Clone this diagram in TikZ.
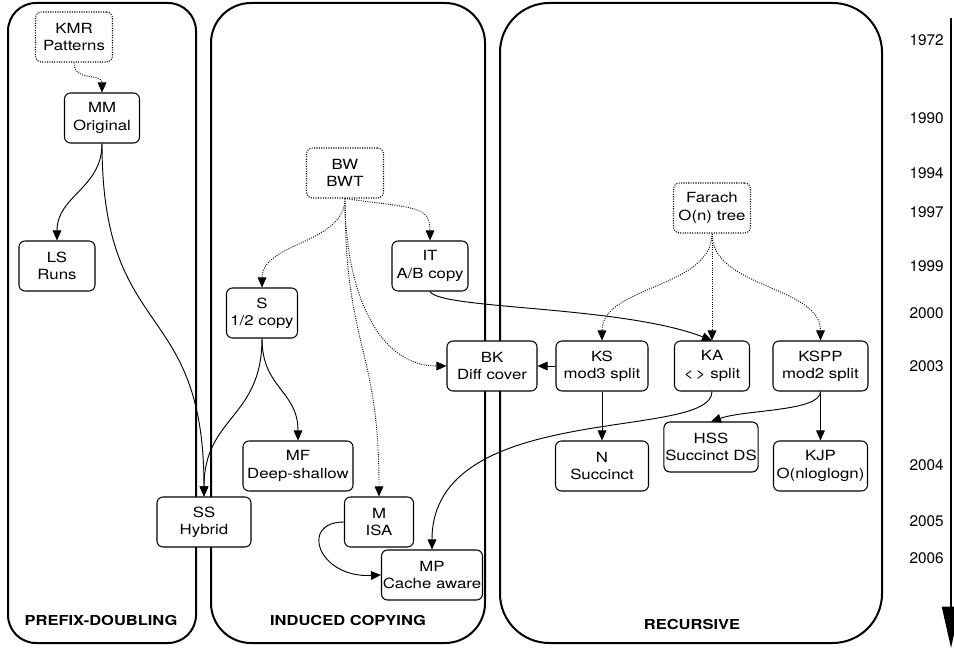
\documentclass[tikz,border=0pt]{standalone}
\usepackage{fontspec}
\setmainfont{TeX Gyre Heros}[FakeStretch=1.2]
\newfontfamily\yearfont{TeX Gyre Heros}
\usetikzlibrary{arrows.meta}
\begin{document}
\begin{tikzpicture}[x=0.75pt,y=-0.75pt,
  box/.style={draw, fill=white, rounded corners=4.5pt, line width=0.8pt, minimum height=37.5pt, align=center, font=\fontsize{10.5}{13}\selectfont, inner sep=1pt},
  dbox/.style={box, densely dotted},
  bw/.style={minimum width=#1*0.75pt},
  panel/.style={draw, line width=1.5pt},
  conn/.style={line width=0.7pt, -{Triangle[length=7.5pt,width=6.5pt]}},
  dconn/.style={conn, densely dotted},
  lab/.style={font=\bfseries\fontsize{10.3}{12}\selectfont},
  year/.style={font=\yearfont\fontsize{11.5}{13}\selectfont, anchor=east, inner sep=0pt}
]
\useasboundingbox (0,0) rectangle (954,648);

% panels
\draw[panel, rounded corners=21pt] (8,3) rectangle (196,643);
\draw[panel, rounded corners=30pt] (211,3) rectangle (485,643);
\draw[panel, rounded corners=37pt] (500,3) rectangle (882,643);

% nodes
\node[dbox, bw=77] (KMR) at (74,37) {KMR\\Patterns};
\node[box, bw=75] (MM) at (102,118) {MM\\Original};
\node[box, bw=76] (LS) at (57,266) {LS\\Runs};
\node[box, bw=94] (SS) at (204,522) {SS\\Hybrid};
\node[dbox, bw=77] (BW) at (345,173) {BW\\BWT};
\node[box, bw=76] (IT) at (430,266) {IT\\A/B copy};
\node[box, bw=71] (S) at (262,313) {S\\1/2 copy};
\node[box, bw=90] (BK) at (492,366) {BK\\Diff cover};
\node[box, bw=110] (MF) at (298,466) {MF\\Deep-shallow};
\node[box, bw=69] (M) at (379,522) {M\\ISA};
\node[box, bw=99] (MP) at (432,575) {MP\\Cache aware};
\node[dbox, bw=77] (F) at (712,208) {Farach\\O(n) tree};
\node[box, bw=92] (KS) at (602,366) {KS\\mod3 split};
\node[box, bw=75] (KA) at (712,366) {KA\\<\,> split};
\node[box, bw=95] (KSPP) at (820.5,366) {KSPP\\mod2 split};
\node[box, bw=94] (HSS) at (711,447) {HSS\\Succinct DS};
\node[box, bw=93] (N) at (602,466) {N\\Succinct};
\node[box, bw=94] (KJP) at (820.5,466) {KJP\\O(nloglogn)};

% connectors
\draw[dconn] (KMR.south) .. controls +(0,20) and +(0,-20) .. (MM.north);
\draw[conn] (MM.south) .. controls +(0,45) and +(0,-45) .. (LS.north);
\draw[conn] (MM.south) .. controls +(0,200) and +(0,-200) .. (SS.north);
\draw[dconn] (BW.south) .. controls +(0,45) and +(0,-45) .. (S.north);
\draw[dconn] (BW.south) .. controls +(70,10) and +(0,-35) .. (IT.north);
\draw[dconn] (BW.south) .. controls +(0,90) and +(-70,0) .. (BK.west);
\draw[dconn] (BW.south) .. controls +(0,150) and +(0,-150) .. (M.north);
\draw[conn] (IT.south) .. controls +(10,18) and +(-90,-35) .. (KA.north);
\draw[dconn] (F.south) .. controls +(0,55) and +(0,-55) .. (KS.north);
\draw[dconn] (F.south) -- (KA.north);
\draw[dconn] (F.south) .. controls +(0,55) and +(0,-55) .. (KSPP.north);
\draw[conn] (KS.west) -- (BK.east);
\draw[conn] (KS.south) -- (N.north);
\draw[conn] (KA.south) .. controls +(0,50) and +(0,-150) .. (MP.north);
\draw[conn] (KSPP.south) .. controls +(0,20) and +(35,-12) .. (HSS.north);
\draw[conn] (KSPP.south) -- (KJP.north);
\draw[conn] (S.south) .. controls +(0,80) and +(0,-80) .. (SS.north);
\draw[conn] (S.south) .. controls +(0,50) and +(0,-50) .. (MF.north);
\draw[conn] (M.west) .. controls +(-45,0) and +(-63,3) .. (MP.west);

% panel labels
\node[lab] (pd) at (101,620) {PREFIX-DOUBLING};
\node[lab] (ic) at (348,620) {INDUCED COPYING};
\node[lab] (rc) at (692,624) {RECURSIVE};

% years
\node[year] (y1) at (944,40.5) {1972};
\node[year] (y2) at (944,118.5) {1990};
\node[year] (y3) at (944,173.5) {1994};
\node[year] (y4) at (944,212) {1997};
\node[year] (y5) at (944,266.5) {1999};
\node[year] (y6) at (944,313.5) {2000};
\node[year] (y7) at (944,366.5) {2003};
\node[year] (y8) at (944,465) {2004};
\node[year] (y9) at (944,521.5) {2005};
\node[year] (y10) at (944,558.5) {2006};

% timeline
\coordinate (t0) at (951,18);
\coordinate (t1) at (951,648);
\draw[line width=1.5pt, -{Triangle[length=31pt,width=13.5pt]}] (t0) -- (t1);
\end{tikzpicture}
\end{document}
